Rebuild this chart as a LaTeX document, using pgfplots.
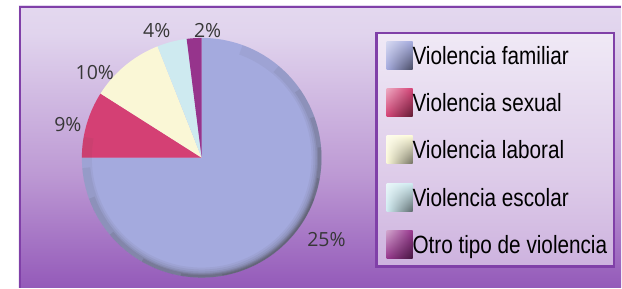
\documentclass[border=0pt]{standalone}
\usepackage{fontspec}
\setmainfont{Liberation Sans}
\newfontfamily\legfont{Liberation Sans}[FakeStretch=0.83]
\newfontfamily\pctfont{Open Sans}
\usepackage{pgfplots}
\usetikzlibrary{shadings}
\pgfplotsset{compat=1.18}
\definecolor{cFam}{RGB}{164,170,222}
\definecolor{cSex}{RGB}{212,64,116}
\definecolor{cLab}{RGB}{250,247,214}
\definecolor{cEsc}{RGB}{206,234,240}
\definecolor{cOtr}{RGB}{150,52,140}
\definecolor{cBorder}{RGB}{128,64,168}
\definecolor{cPct}{RGB}{55,55,55}
\pgfdeclareverticalshading{bgshade}{100bp}{rgb(0bp)=(0.49,0.23,0.67); rgb(20bp)=(0.54,0.29,0.70); rgb(45bp)=(0.74,0.60,0.83); rgb(70bp)=(0.88,0.83,0.93); rgb(100bp)=(0.95,0.93,0.97)}
% values (percent)
\def\vFam{75}\def\vSex{9}\def\vLab{10}\def\vEsc{4}\def\vOtr{2}
% color, cumulative before, value
\newcommand\slice[3]{%
  \fill[#1] (axis cs:202,130) -- ++({90-3.6*#2}:120pt) arc[start angle={90-3.6*#2}, delta angle={-3.6*#3}, radius=120pt] -- cycle;}
\newcommand\swatch[1]{\addlegendimage{draw=none, legend image code/.code={%
  \shade[draw=none, upper left=#1!45!white, upper right=#1, lower left=#1, lower right=#1!45!black] (0pt,-12pt) rectangle (26pt,16pt);}}}
\newcommand\rim[4]{% start, end, width, opacity
  \draw[black!75, line width=#3, opacity=#4] (axis cs:202,130) ++(#1:120pt) arc[start angle=#1, end angle=#2, radius=120pt];}
\begin{document}
\begin{tikzpicture}
\begin{axis}[
  x=1pt, y=1pt, xmin=0, xmax=622, ymin=0, ymax=288,
  hide axis, clip=false,
  legend style={at={(axis cs:387,247)}, anchor=north west, draw=none, fill=none,
    inner sep=0pt, row sep=18.5pt, column sep=0pt,
    font=\fontsize{25pt}{28pt}\selectfont\legfont,
    nodes={inner sep=0pt, text height=20pt, text depth=6pt}},
  legend cell align=left,
]
% background
\fill[white] (axis cs:0,0) rectangle (axis cs:622,288);
\shade[shading=bgshade] (axis cs:19,0) rectangle (axis cs:622,282);
\draw[cBorder, line width=2pt] (axis cs:20,0) -- (axis cs:20,281) -- (axis cs:622,281);
% pie
\slice{cFam}{0}{\vFam}
\slice{cSex}{75}{\vSex}
\slice{cLab}{84}{\vLab}
\slice{cEsc}{94}{\vEsc}
\slice{cOtr}{98}{\vOtr}
% rim shading (soft bevel)
\begin{scope}
\clip (axis cs:202,130) circle[radius=120pt];
\rim{70}{-190}{20pt}{0.06}
\rim{50}{-175}{16pt}{0.08}
\rim{35}{-160}{12pt}{0.10}
\rim{20}{-140}{9pt}{0.13}
\rim{5}{-120}{7pt}{0.16}
\rim{-10}{-100}{5pt}{0.18}
\rim{-20}{-80}{3pt}{0.20}
\end{scope}
% labels
\node[font=\fontsize{19.5pt}{22pt}\selectfont\pctfont, text=cPct] at (axis cs:208,257) {2\%};
\node[font=\fontsize{19.5pt}{22pt}\selectfont\pctfont, text=cPct] at (axis cs:157,257) {4\%};
\node[font=\fontsize{19.5pt}{22pt}\selectfont\pctfont, text=cPct] at (axis cs:95,215) {10\%};
\node[font=\fontsize{19.5pt}{22pt}\selectfont\pctfont, text=cPct] at (axis cs:68,163) {9\%};
\node[font=\fontsize{19.5pt}{22pt}\selectfont\pctfont, text=cPct] at (axis cs:327,48) {25\%};
% legend frame
\fill[white, opacity=0.5] (axis cs:377,255) rectangle (axis cs:615,21);
\draw[cBorder, line width=2.7pt] (axis cs:377,255) rectangle (axis cs:615,21);
\swatch{cFam}\addlegendentry{Violencia familiar}
\swatch{cSex}\addlegendentry{Violencia sexual}
\swatch{cLab}\addlegendentry{Violencia laboral}
\swatch{cEsc}\addlegendentry{Violencia escolar}
\swatch{cOtr}\addlegendentry{Otro tipo de violencia}
\end{axis}
\end{tikzpicture}
\end{document}
